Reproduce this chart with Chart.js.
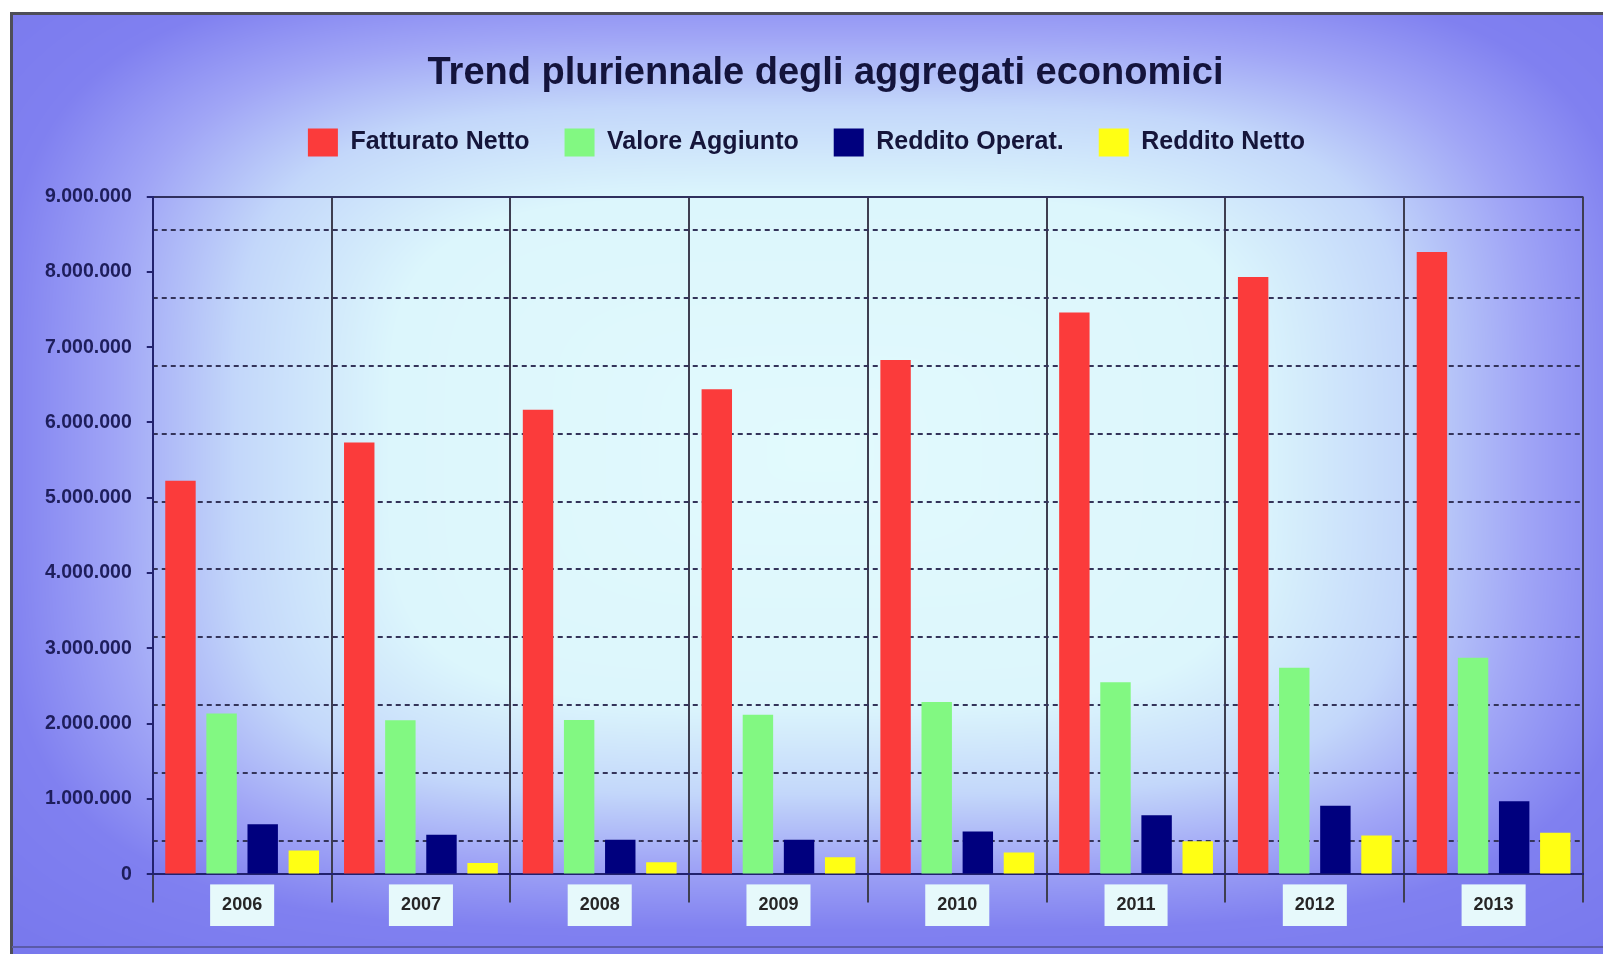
<!DOCTYPE html>
<html>
<head>
<meta charset="utf-8">
<title>Trend pluriennale degli aggregati economici</title>
<script src="https://cdn.jsdelivr.net/npm/chart.js@4.4.1/dist/chart.umd.min.js"></script>
<style>
  html, body { margin: 0; padding: 0; background: #fff; }
  #wrap { width: 1603px; height: 954px; position: relative; }
</style>
</head>
<body>
<div id="wrap"><canvas id="myChart"></canvas></div>
<script>
// dati
const anni = ['2006', '2007', '2008', '2009', '2010', '2011', '2012', '2013'];
const fatturatoNetto = [5225000, 5735000, 6170000, 6440000, 6830000, 7460000, 7930000, 8265000];
const valoreAggiunto = [2135000, 2045000, 2050000, 2120000, 2290000, 2550000, 2745000, 2875000];
const redditoOperat = [665000, 527000, 459000, 459000, 570000, 785000, 912000, 970000];
const redditoNetto = [318000, 152000, 160000, 228000, 292000, 440000, 515000, 552000];
const etichette = ['Fatturato Netto', 'Valore Aggiunto', 'Reddito Operat.', 'Reddito Netto'];
const colori = ['#fb3b3b', '#82f882', '#00007e', '#ffff14'];
// righe tratteggiate della griglia (non coincidono con i tick)
const righeGriglia = [450000, 1350000, 2250000, 3150000, 4050000, 4950000, 5850000, 6750000, 7650000, 8550000];
const maxAsse = 9000000;

function puntini(v) {
  return String(v).replace(/\B(?=(\d{3})+(?!\d))/g, '.');
}

// sfondo sfumato tipo excel
function creaSfondo(w, h) {
  const c = document.createElement('canvas');
  c.width = w; c.height = h;
  const g = c.getContext('2d');
  const img = g.createImageData(w, h);
  const stops = [[0, 226, 250, 253], [0.5, 220, 246, 252], [0.68, 195, 215, 250], [0.82, 160, 165, 246], [0.95, 128, 128, 240], [1.2, 118, 118, 236]];
  const cx = 810, cy = 438, rx = 860, ry = 505;
  for (let y = 0; y < h; y++) {
    for (let x = 0; x < w; x++) {
      const dx = Math.abs(x - cx) / rx, dy = Math.abs(y - cy) / ry;
      let d = Math.pow(dx * dx * dx * dx + dy * dy * dy * dy, 0.25);
      if (d > 1.2) d = 1.2;
      let k = 0;
      while (k < stops.length - 2 && d > stops[k + 1][0]) k++;
      const a = stops[k], b = stops[k + 1];
      const t = Math.max(0, Math.min(1, (d - a[0]) / (b[0] - a[0])));
      const i = (y * w + x) * 4;
      img.data[i] = a[1] + (b[1] - a[1]) * t;
      img.data[i + 1] = a[2] + (b[2] - a[2]) * t;
      img.data[i + 2] = a[3] + (b[3] - a[3]) * t;
      img.data[i + 3] = 255;
    }
  }
  g.putImageData(img, 0, 0);
  return c;
}
const sfondo = creaSfondo(1593, 942);

const cornice = {
  id: 'cornice',
  beforeDraw(chart) {
    const ctx = chart.ctx;
    ctx.save();
    ctx.fillStyle = '#ffffff';
    ctx.fillRect(0, 0, chart.width, chart.height);
    ctx.drawImage(sfondo, 10, 12);
    ctx.strokeStyle = '#4e4e58';
    ctx.lineWidth = 3;
    ctx.beginPath();
    ctx.moveTo(11.5, chart.height);
    ctx.lineTo(11.5, 13.5);
    ctx.lineTo(chart.width, 13.5);
    ctx.stroke();
    ctx.strokeStyle = '#5a5aa8';
    ctx.lineWidth = 2;
    ctx.beginPath();
    ctx.moveTo(12, 947);
    ctx.lineTo(chart.width, 947);
    ctx.stroke();
    ctx.restore();
  }
};

const ctx = document.getElementById('myChart').getContext('2d');

const data = {
  labels: anni,
  datasets: [
    { label: etichette[0], data: fatturatoNetto, backgroundColor: colori[0] },
    { label: etichette[1], data: valoreAggiunto, backgroundColor: colori[1] },
    { label: etichette[2], data: redditoOperat, backgroundColor: colori[2] },
    { label: etichette[3], data: redditoNetto, backgroundColor: colori[3] }
  ]
};

const config = {
  type: 'bar',
  data: data,
  plugins: [cornice],
  options: {
    responsive: true,
    maintainAspectRatio: false,
    animation: false,
    datasets: {
      bar: { categoryPercentage: 0.92, barPercentage: 0.74, yAxisID: 'y' }
    },
    layout: { padding: { top: 12, left: 30, right: 20, bottom: 26 } },
    plugins: {
      tooltip: { enabled: false },
      title: {
        display: true,
        // spazi iniziali per spostare il titolo un po' a destra come nell'originale
        text: '\u2002\u2002Trend pluriennale degli aggregati economici',
        color: '#14143c',
        font: { family: 'Liberation Sans, Arial, sans-serif', size: 38, weight: 'bold', lineHeight: 1.04 },
        padding: { top: 42, bottom: 0 },
        weight: 3000
      },
      legend: {
        display: true,
        position: 'top',
        weight: 2500,
        labels: {
          boxWidth: 30,
          boxHeight: 28,
          padding: 35,
          color: '#15153a',
          font: { family: 'Liberation Sans, Arial, sans-serif', size: 25, weight: 'bold' }
        }
      },
      subtitle: {
        display: true,
        text: ' ',
        font: { size: 10, lineHeight: 1 },
        padding: { top: 20, bottom: 0 },
        weight: 1000
      }
    },
    scales: {
      x: {
        grid: {
          offset: true,
          color: '#3e3e50',
          lineWidth: 2,
          tickLength: 28
        },
        border: { color: '#22226e', width: 2 },
        title: {
          display: true,
          text: ' ',
          font: { size: 10, lineHeight: 1 },
          padding: { top: 0, bottom: 10 }
        },
        ticks: {
          color: '#262626',
          padding: -8,
          font: { family: 'Liberation Sans, Arial, sans-serif', size: 18, weight: 'bold' },
          showLabelBackdrop: true,
          backdropColor: '#e6f9fb',
          backdropPadding: { top: 10, bottom: 10, left: 12, right: 12 }
        }
      },
      y: {
        min: 0,
        max: maxAsse,
        grid: {
          color: c => (c.tick && c.tick.value === maxAsse) ? '#30305e' : 'rgba(0,0,0,0)',
          tickColor: '#22226e',
          lineWidth: 2,
          tickLength: 6
        },
        border: { color: '#22226e', width: 2 },
        ticks: {
          stepSize: 1000000,
          padding: 15,
          color: '#1e1e5c',
          font: { family: 'Liberation Sans, Arial, sans-serif', size: 19.5, weight: 'bold' },
          callback: v => puntini(v)
        }
      },
      y2: {
        position: 'right',
        min: 0,
        max: maxAsse,
        afterBuildTicks: s => { s.ticks = righeGriglia.map(v => ({ value: v })); },
        grid: {
          color: '#34345a',
          lineWidth: 2,
          drawTicks: false
        },
        border: { display: false, dash: [5, 4] },
        ticks: { display: false }
      }
    }
  }
};

const myChart = new Chart(ctx, config);
</script>
</body>
</html>
